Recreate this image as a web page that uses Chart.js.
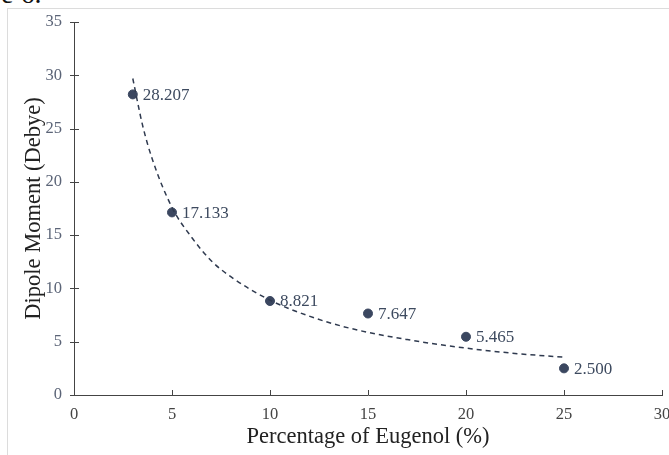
<!DOCTYPE html>
<html>
<head>
<meta charset="utf-8">
<script src="https://cdn.jsdelivr.net/npm/chart.js@4"></script>
<style>
  html, body { margin: 0; padding: 0; background: #fff; }
  #wrap { position: relative; width: 669px; height: 455px; overflow: hidden; }
  #frame { position: absolute; left: 7px; top: 8px; right: -2px; bottom: -2px;
           border-top: 1px solid #dcdcdc; border-left: 1px solid #dcdcdc; }
  #cap { position: absolute; left: 1px; top: -20px; font: 28px/1 "Liberation Serif", serif; color: #111; }
  canvas { position: absolute; left: 0; top: 0; }
</style>
</head>
<body>
<div id="wrap">
  <div id="cap">e 6.</div>
  <div id="frame"></div>
  <canvas id="graphics" width="669" height="455"></canvas>
</div>
<script>
// measured points
const eugenol = [3, 5, 10, 15, 20, 25];
const dipole = [28.207, 17.133, 8.821, 7.647, 5.465, 2.500];
const dipoleLabels = ['28.207', '17.133', '8.821', '7.647', '5.465', '2.500'];

// dashed trend curve
const trendX = [3, 3.5, 4, 5, 6, 7, 8, 10, 12, 14, 17, 20, 22.5, 25];
const trendY = [29.7, 25.3, 22.1, 17.6, 14.8, 12.6, 11.1, 8.9, 7.4, 6.3, 5.2, 4.4, 3.9, 3.55];

const xTicks = [0, 5, 10, 15, 20, 25, 30];
const yTicks = [0, 5, 10, 15, 20, 25, 30, 35];

const serif = '"Liberation Serif", "Times New Roman", serif';

// value labels next to the dots
const pointLabels = {
    id: 'pointLabels',
    afterDatasetsDraw(chart) {
        const ctx = chart.ctx;
        const meta = chart.getDatasetMeta(1);
        ctx.save();
        ctx.font = '17px ' + serif;
        ctx.fillStyle = '#3d4a5f';
        ctx.textAlign = 'left';
        ctx.textBaseline = 'middle';
        meta.data.forEach((pt, i) => {
            ctx.fillText(dipoleLabels[i], pt.x + 10, pt.y + 1);
        });
        ctx.restore();
    }
};

// small tick marks: x ticks point inward, y ticks cross the axis
const tickMarks = {
    id: 'tickMarks',
    afterDraw(chart) {
        const ctx = chart.ctx;
        const xs = chart.scales.x, ys = chart.scales.y;
        const area = chart.chartArea;
        ctx.save();
        ctx.strokeStyle = '#444';
        ctx.lineWidth = 1;
        ctx.beginPath();
        xTicks.forEach(v => {
            const px = Math.round(xs.getPixelForValue(v)) + 0.5;
            ctx.moveTo(px, area.bottom);
            ctx.lineTo(px, area.bottom - 5);
        });
        yTicks.forEach(v => {
            const py = Math.round(ys.getPixelForValue(v)) + 0.5;
            ctx.moveTo(area.left - 4, py);
            ctx.lineTo(area.left + 5, py);
        });
        ctx.stroke();
        ctx.restore();
    }
};

var ctx = document.getElementById('graphics').getContext('2d');
var myChart = new Chart(ctx, {
    type: 'scatter',
    data: {
        datasets: [{
            label: 'trend',
            data: trendX.map((x, i) => ({ x: x, y: trendY[i] })),
            showLine: true,
            borderColor: '#2f3a4f',
            borderWidth: 1.5,
            borderDash: [5, 4],
            pointRadius: 0,
            cubicInterpolationMode: 'monotone',
            fill: false
        }, {
            label: 'Dipole Moment',
            data: eugenol.map((x, i) => ({ x: x, y: dipole[i] })),
            backgroundColor: '#3b4760',
            borderColor: '#3b4760',
            pointRadius: 4.5,
            showLine: false
        }]
    },
    options: {
        responsive: false,
        animation: false,
        layout: { padding: { left: 21, right: 7, top: 22, bottom: 0 } },
        plugins: { legend: { display: false }, tooltip: { enabled: false } },
        scales: {
            x: {
                type: 'linear',
                min: 0, max: 30,
                afterBuildTicks: s => { s.ticks = xTicks.map(v => ({ value: v })); },
                grid: { display: false, drawTicks: false },
                border: { display: true, color: '#444', width: 1 },
                ticks: { color: '#444', font: { family: serif, size: 16.5 }, padding: 10 },
                title: { display: true, text: 'Percentage of Eugenol (%)', color: '#222',
                         font: { family: serif, size: 22.5 }, padding: { top: 0 } },
                afterFit: s => { s.height = 60; s.paddingLeft = 0; s.paddingRight = 0; }
            },
            y: {
                min: 0, max: 35,
                afterBuildTicks: s => { s.ticks = yTicks.map(v => ({ value: v })); },
                grid: { display: false, drawTicks: false },
                border: { display: true, color: '#444', width: 1 },
                ticks: { color: '#5b6477', font: { family: serif, size: 16.5 }, padding: 12 },
                title: { display: true, text: 'Dipole Moment (Debye)', color: '#222',
                         font: { family: serif, size: 22.5 }, padding: { top: 0, bottom: 0 } },
                afterFit: s => { s.width = 53; s.paddingTop = 0; s.paddingBottom = 0; }
            }
        }
    },
    plugins: [pointLabels, tickMarks]
});
</script>
</body>
</html>
